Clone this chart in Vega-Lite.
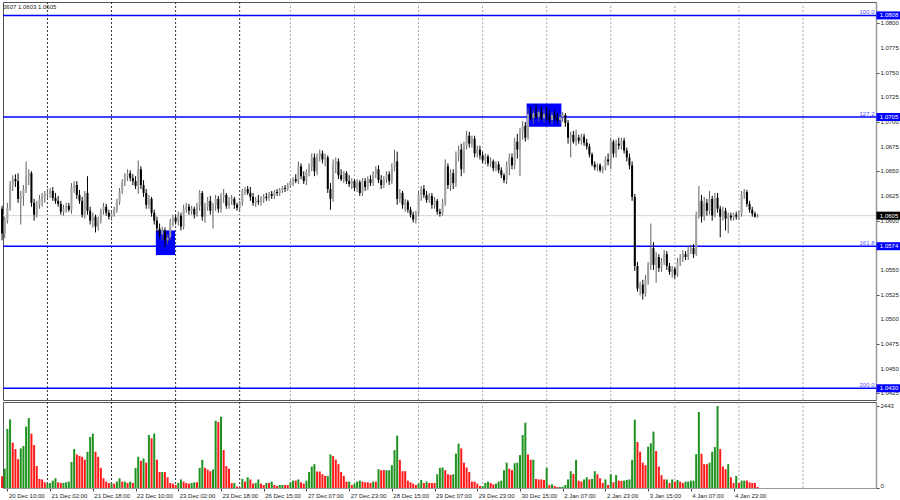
{
"$schema":"https://vega.github.io/schema/vega-lite/v6.json",
"background":"white",
"padding":{"left":0,"top":1,"right":0,"bottom":0},
"spacing":0,
"config":{"view":{"stroke":"#555","strokeWidth":1},"font":"Liberation Sans","axis":{"labelFont":"Liberation Sans","labelOverlap":false},"scale":{"continuousPadding":0}},
"datasets":{
"grid":[{"g":17},{"g":41},{"g":65},{"g":89},{"g":108},{"g":132},{"g":156},{"g":180},{"g":204},{"g":228},{"g":252},{"g":276},{"g":300}],
"yl":[{"p":1.0425},{"p":1.0450},{"p":1.0475},{"p":1.0500},{"p":1.0525},{"p":1.0550},{"p":1.0600},{"p":1.0625},{"p":1.0650},{"p":1.0675},{"p":1.0700},{"p":1.0725},{"p":1.0750},{"p":1.0775},{"p":1.0800}],
"lv":[{"p":1.0808,"n":"100.0"},{"p":1.0705,"n":"127.2"},{"p":1.0574,"n":"161.8"},{"p":1.0430,"n":"200.0"}],
"tag":[{"p":1.0808,"t":"1.0808","k":"L"},{"p":1.0705,"t":"1.0705","k":"L"},{"p":1.0574,"t":"1.0574","k":"L"},{"p":1.0430,"t":"1.0430","k":"L"},{"p":1.0605,"t":"1.0605","k":"C"}],
"bx":[{"a":57.6,"b":64.8,"lo":1.0565,"hi":1.0590},{"a":196.5,"b":209.5,"lo":1.06951,"hi":1.07188}],
"k":[
{"i":0,"o":1.0612,"h":1.0615,"l":1.0580,"c":1.0587,"v":350,"u":0},
{"i":1,"o":1.0587,"h":1.0604,"l":1.0582,"c":1.0600,"v":575,"u":1},
{"i":2,"o":1.0600,"h":1.0618,"l":1.0597,"c":1.0613,"v":1760,"u":1},
{"i":3,"o":1.0613,"h":1.0640,"l":1.0610,"c":1.0636,"v":2045,"u":1},
{"i":4,"o":1.0636,"h":1.0646,"l":1.0630,"c":1.0642,"v":1350,"u":0},
{"i":5,"o":1.0642,"h":1.0647,"l":1.0634,"c":1.0640,"v":1160,"u":0},
{"i":6,"o":1.0640,"h":1.0648,"l":1.0618,"c":1.0622,"v":860,"u":0},
{"i":7,"o":1.0622,"h":1.0630,"l":1.0596,"c":1.0625,"v":1180,"u":1},
{"i":8,"o":1.0625,"h":1.0636,"l":1.0615,"c":1.0632,"v":1250,"u":1},
{"i":9,"o":1.0632,"h":1.0660,"l":1.0628,"c":1.0645,"v":1830,"u":1},
{"i":10,"o":1.0645,"h":1.0652,"l":1.0636,"c":1.0648,"v":2085,"u":1},
{"i":11,"o":1.0648,"h":1.0650,"l":1.0614,"c":1.0618,"v":1620,"u":0},
{"i":12,"o":1.0618,"h":1.0622,"l":1.0600,"c":1.0606,"v":1280,"u":0},
{"i":13,"o":1.0606,"h":1.0620,"l":1.0603,"c":1.0616,"v":655,"u":0},
{"i":14,"o":1.0616,"h":1.0626,"l":1.0612,"c":1.0622,"v":270,"u":0},
{"i":15,"o":1.0622,"h":1.0628,"l":1.0614,"c":1.0624,"v":255,"u":0},
{"i":16,"o":1.0624,"h":1.0630,"l":1.0618,"c":1.0627,"v":170,"u":0},
{"i":17,"o":1.0627,"h":1.0632,"l":1.0622,"c":1.0628,"v":130,"u":1},
{"i":18,"o":1.0628,"h":1.0633,"l":1.0623,"c":1.0630,"v":150,"u":1},
{"i":19,"o":1.0630,"h":1.0634,"l":1.0620,"c":1.0623,"v":220,"u":1},
{"i":20,"o":1.0623,"h":1.0628,"l":1.0617,"c":1.0620,"v":290,"u":1},
{"i":21,"o":1.0620,"h":1.0625,"l":1.0614,"c":1.0617,"v":170,"u":0},
{"i":22,"o":1.0617,"h":1.0620,"l":1.0606,"c":1.0609,"v":150,"u":0},
{"i":23,"o":1.0609,"h":1.0616,"l":1.0605,"c":1.0612,"v":150,"u":1},
{"i":24,"o":1.0612,"h":1.0618,"l":1.0608,"c":1.0615,"v":170,"u":1},
{"i":25,"o":1.0615,"h":1.0618,"l":1.0609,"c":1.0611,"v":190,"u":1},
{"i":26,"o":1.0611,"h":1.0638,"l":1.0607,"c":1.0634,"v":775,"u":1},
{"i":27,"o":1.0634,"h":1.0640,"l":1.0628,"c":1.0636,"v":1160,"u":1},
{"i":28,"o":1.0636,"h":1.0640,"l":1.0622,"c":1.0626,"v":1000,"u":0},
{"i":29,"o":1.0626,"h":1.0631,"l":1.0617,"c":1.0620,"v":960,"u":0},
{"i":30,"o":1.0620,"h":1.0624,"l":1.0603,"c":1.0606,"v":930,"u":0},
{"i":31,"o":1.0606,"h":1.0630,"l":1.0602,"c":1.0628,"v":845,"u":0},
{"i":32,"o":1.0628,"h":1.0645,"l":1.0606,"c":1.0610,"v":1080,"u":1},
{"i":33,"o":1.0610,"h":1.0614,"l":1.0596,"c":1.0600,"v":1520,"u":1},
{"i":34,"o":1.0600,"h":1.0608,"l":1.0593,"c":1.0604,"v":1620,"u":1},
{"i":35,"o":1.0604,"h":1.0606,"l":1.0588,"c":1.0594,"v":1080,"u":0},
{"i":36,"o":1.0594,"h":1.0604,"l":1.0590,"c":1.0600,"v":930,"u":0},
{"i":37,"o":1.0600,"h":1.0612,"l":1.0597,"c":1.0610,"v":600,"u":0},
{"i":38,"o":1.0610,"h":1.0618,"l":1.0606,"c":1.0614,"v":290,"u":0},
{"i":39,"o":1.0614,"h":1.0617,"l":1.0605,"c":1.0608,"v":190,"u":0},
{"i":40,"o":1.0608,"h":1.0611,"l":1.0601,"c":1.0604,"v":150,"u":0},
{"i":41,"o":1.0604,"h":1.0610,"l":1.0600,"c":1.0607,"v":140,"u":1},
{"i":42,"o":1.0607,"h":1.0614,"l":1.0604,"c":1.0611,"v":130,"u":0},
{"i":43,"o":1.0611,"h":1.0622,"l":1.0608,"c":1.0619,"v":190,"u":1},
{"i":44,"o":1.0619,"h":1.0633,"l":1.0616,"c":1.0630,"v":290,"u":1},
{"i":45,"o":1.0630,"h":1.0642,"l":1.0627,"c":1.0639,"v":190,"u":0},
{"i":46,"o":1.0639,"h":1.0648,"l":1.0635,"c":1.0645,"v":190,"u":1},
{"i":47,"o":1.0645,"h":1.0652,"l":1.0640,"c":1.0648,"v":150,"u":0},
{"i":48,"o":1.0648,"h":1.0651,"l":1.0640,"c":1.0643,"v":190,"u":1},
{"i":49,"o":1.0643,"h":1.0647,"l":1.0636,"c":1.0640,"v":150,"u":0},
{"i":50,"o":1.0640,"h":1.0645,"l":1.0632,"c":1.0635,"v":600,"u":1},
{"i":51,"o":1.0635,"h":1.0661,"l":1.0627,"c":1.0652,"v":930,"u":1},
{"i":52,"o":1.0652,"h":1.0655,"l":1.0632,"c":1.0636,"v":810,"u":0},
{"i":53,"o":1.0636,"h":1.0641,"l":1.0624,"c":1.0628,"v":880,"u":1},
{"i":54,"o":1.0628,"h":1.0632,"l":1.0612,"c":1.0616,"v":755,"u":0},
{"i":55,"o":1.0616,"h":1.0626,"l":1.0612,"c":1.0622,"v":1580,"u":1},
{"i":56,"o":1.0622,"h":1.0624,"l":1.0604,"c":1.0608,"v":1480,"u":0},
{"i":57,"o":1.0608,"h":1.0611,"l":1.0596,"c":1.0600,"v":1620,"u":1},
{"i":58,"o":1.0600,"h":1.0604,"l":1.0588,"c":1.0592,"v":845,"u":0},
{"i":59,"o":1.0592,"h":1.0597,"l":1.0582,"c":1.0586,"v":475,"u":0},
{"i":60,"o":1.0586,"h":1.0594,"l":1.0580,"c":1.0590,"v":475,"u":1},
{"i":61,"o":1.0590,"h":1.0593,"l":1.0573,"c":1.0580,"v":475,"u":0},
{"i":62,"o":1.0580,"h":1.0586,"l":1.0576,"c":1.0583,"v":320,"u":0},
{"i":63,"o":1.0583,"h":1.0602,"l":1.0580,"c":1.0598,"v":150,"u":0},
{"i":64,"o":1.0598,"h":1.0606,"l":1.0594,"c":1.0603,"v":130,"u":0},
{"i":65,"o":1.0603,"h":1.0606,"l":1.0596,"c":1.0599,"v":90,"u":0},
{"i":66,"o":1.0599,"h":1.0609,"l":1.0595,"c":1.0605,"v":150,"u":1},
{"i":67,"o":1.0605,"h":1.0608,"l":1.0590,"c":1.0594,"v":255,"u":1},
{"i":68,"o":1.0594,"h":1.0616,"l":1.0591,"c":1.0612,"v":190,"u":0},
{"i":69,"o":1.0612,"h":1.0618,"l":1.0608,"c":1.0614,"v":150,"u":0},
{"i":70,"o":1.0614,"h":1.0617,"l":1.0606,"c":1.0610,"v":130,"u":0},
{"i":71,"o":1.0610,"h":1.0615,"l":1.0606,"c":1.0612,"v":150,"u":1},
{"i":72,"o":1.0612,"h":1.0614,"l":1.0602,"c":1.0606,"v":170,"u":1},
{"i":73,"o":1.0606,"h":1.0618,"l":1.0604,"c":1.0615,"v":170,"u":0},
{"i":74,"o":1.0615,"h":1.0631,"l":1.0610,"c":1.0628,"v":600,"u":1},
{"i":75,"o":1.0628,"h":1.0630,"l":1.0600,"c":1.0604,"v":840,"u":1},
{"i":76,"o":1.0604,"h":1.0618,"l":1.0598,"c":1.0614,"v":600,"u":0},
{"i":77,"o":1.0614,"h":1.0624,"l":1.0610,"c":1.0620,"v":550,"u":0},
{"i":78,"o":1.0620,"h":1.0625,"l":1.0606,"c":1.0610,"v":500,"u":0},
{"i":79,"o":1.0610,"h":1.0618,"l":1.0592,"c":1.0616,"v":550,"u":1},
{"i":80,"o":1.0616,"h":1.0626,"l":1.0610,"c":1.0622,"v":2005,"u":1},
{"i":81,"o":1.0622,"h":1.0625,"l":1.0608,"c":1.0612,"v":1965,"u":0},
{"i":82,"o":1.0612,"h":1.0628,"l":1.0608,"c":1.0624,"v":2125,"u":1},
{"i":83,"o":1.0624,"h":1.0632,"l":1.0618,"c":1.0626,"v":1130,"u":0},
{"i":84,"o":1.0626,"h":1.0628,"l":1.0612,"c":1.0615,"v":655,"u":0},
{"i":85,"o":1.0615,"h":1.0624,"l":1.0612,"c":1.0620,"v":575,"u":0},
{"i":86,"o":1.0620,"h":1.0626,"l":1.0616,"c":1.0622,"v":150,"u":0},
{"i":87,"o":1.0622,"h":1.0624,"l":1.0612,"c":1.0616,"v":150,"u":1},
{"i":88,"o":1.0616,"h":1.0618,"l":1.0610,"c":1.0613,"v":40,"u":0},
{"i":89,"o":1.0613,"h":1.0620,"l":1.0610,"c":1.0618,"v":20,"u":0},
{"i":90,"o":1.0618,"h":1.0632,"l":1.0615,"c":1.0630,"v":270,"u":1},
{"i":91,"o":1.0630,"h":1.0634,"l":1.0626,"c":1.0632,"v":190,"u":0},
{"i":92,"o":1.0632,"h":1.0635,"l":1.0626,"c":1.0628,"v":320,"u":1},
{"i":93,"o":1.0628,"h":1.0634,"l":1.0620,"c":1.0624,"v":255,"u":0},
{"i":94,"o":1.0624,"h":1.0628,"l":1.0615,"c":1.0618,"v":130,"u":0},
{"i":95,"o":1.0618,"h":1.0624,"l":1.0614,"c":1.0620,"v":150,"u":1},
{"i":96,"o":1.0620,"h":1.0626,"l":1.0616,"c":1.0619,"v":255,"u":1},
{"i":97,"o":1.0619,"h":1.0625,"l":1.0615,"c":1.0622,"v":130,"u":0},
{"i":98,"o":1.0622,"h":1.0627,"l":1.0618,"c":1.0624,"v":90,"u":0},
{"i":99,"o":1.0624,"h":1.0628,"l":1.0620,"c":1.0623,"v":150,"u":1},
{"i":100,"o":1.0623,"h":1.0629,"l":1.0620,"c":1.0627,"v":150,"u":0},
{"i":101,"o":1.0627,"h":1.0630,"l":1.0622,"c":1.0625,"v":190,"u":1},
{"i":102,"o":1.0625,"h":1.0631,"l":1.0622,"c":1.0629,"v":90,"u":0},
{"i":103,"o":1.0629,"h":1.0632,"l":1.0625,"c":1.0628,"v":60,"u":0},
{"i":104,"o":1.0628,"h":1.0633,"l":1.0625,"c":1.0631,"v":90,"u":1},
{"i":105,"o":1.0631,"h":1.0635,"l":1.0628,"c":1.0633,"v":90,"u":1},
{"i":106,"o":1.0633,"h":1.0636,"l":1.0629,"c":1.0632,"v":90,"u":0},
{"i":107,"o":1.0632,"h":1.0638,"l":1.0630,"c":1.0636,"v":90,"u":0},
{"i":108,"o":1.0636,"h":1.0641,"l":1.0633,"c":1.0639,"v":170,"u":1},
{"i":109,"o":1.0639,"h":1.0644,"l":1.0635,"c":1.0642,"v":220,"u":1},
{"i":110,"o":1.0642,"h":1.0647,"l":1.0638,"c":1.0640,"v":220,"u":0},
{"i":111,"o":1.0640,"h":1.0660,"l":1.0637,"c":1.0655,"v":255,"u":1},
{"i":112,"o":1.0655,"h":1.0658,"l":1.0642,"c":1.0645,"v":170,"u":0},
{"i":113,"o":1.0645,"h":1.0650,"l":1.0637,"c":1.0640,"v":130,"u":0},
{"i":114,"o":1.0640,"h":1.0652,"l":1.0636,"c":1.0649,"v":220,"u":1},
{"i":115,"o":1.0649,"h":1.0658,"l":1.0645,"c":1.0655,"v":475,"u":1},
{"i":116,"o":1.0655,"h":1.0668,"l":1.0650,"c":1.0664,"v":640,"u":1},
{"i":117,"o":1.0664,"h":1.0668,"l":1.0645,"c":1.0650,"v":710,"u":1},
{"i":118,"o":1.0650,"h":1.0668,"l":1.0646,"c":1.0665,"v":490,"u":0},
{"i":119,"o":1.0665,"h":1.0672,"l":1.0660,"c":1.0668,"v":490,"u":0},
{"i":120,"o":1.0668,"h":1.0671,"l":1.0658,"c":1.0662,"v":410,"u":0},
{"i":121,"o":1.0662,"h":1.0668,"l":1.0655,"c":1.0664,"v":360,"u":0},
{"i":122,"o":1.0664,"h":1.0666,"l":1.0628,"c":1.0632,"v":360,"u":1},
{"i":123,"o":1.0632,"h":1.0638,"l":1.0611,"c":1.0622,"v":1000,"u":1},
{"i":124,"o":1.0622,"h":1.0662,"l":1.0619,"c":1.0657,"v":950,"u":0},
{"i":125,"o":1.0657,"h":1.0664,"l":1.0648,"c":1.0660,"v":845,"u":0},
{"i":126,"o":1.0660,"h":1.0663,"l":1.0642,"c":1.0646,"v":710,"u":0},
{"i":127,"o":1.0646,"h":1.0652,"l":1.0640,"c":1.0642,"v":475,"u":0},
{"i":128,"o":1.0642,"h":1.0650,"l":1.0638,"c":1.0648,"v":360,"u":0},
{"i":129,"o":1.0648,"h":1.0650,"l":1.0637,"c":1.0640,"v":190,"u":0},
{"i":130,"o":1.0640,"h":1.0646,"l":1.0634,"c":1.0637,"v":190,"u":1},
{"i":131,"o":1.0637,"h":1.0643,"l":1.0632,"c":1.0640,"v":90,"u":0},
{"i":132,"o":1.0640,"h":1.0642,"l":1.0630,"c":1.0633,"v":130,"u":1},
{"i":133,"o":1.0633,"h":1.0642,"l":1.0629,"c":1.0639,"v":190,"u":1},
{"i":134,"o":1.0639,"h":1.0641,"l":1.0625,"c":1.0628,"v":220,"u":1},
{"i":135,"o":1.0628,"h":1.0643,"l":1.0625,"c":1.0640,"v":190,"u":0},
{"i":136,"o":1.0640,"h":1.0643,"l":1.0630,"c":1.0634,"v":170,"u":0},
{"i":137,"o":1.0634,"h":1.0645,"l":1.0631,"c":1.0642,"v":170,"u":0},
{"i":138,"o":1.0642,"h":1.0646,"l":1.0635,"c":1.0638,"v":150,"u":0},
{"i":139,"o":1.0638,"h":1.0650,"l":1.0635,"c":1.0647,"v":190,"u":1},
{"i":140,"o":1.0647,"h":1.0655,"l":1.0643,"c":1.0652,"v":190,"u":0},
{"i":141,"o":1.0652,"h":1.0656,"l":1.0638,"c":1.0641,"v":560,"u":1},
{"i":142,"o":1.0641,"h":1.0646,"l":1.0632,"c":1.0636,"v":530,"u":0},
{"i":143,"o":1.0636,"h":1.0645,"l":1.0633,"c":1.0642,"v":530,"u":0},
{"i":144,"o":1.0642,"h":1.0650,"l":1.0638,"c":1.0647,"v":530,"u":1},
{"i":145,"o":1.0647,"h":1.0650,"l":1.0636,"c":1.0640,"v":530,"u":1},
{"i":146,"o":1.0640,"h":1.0658,"l":1.0637,"c":1.0654,"v":680,"u":1},
{"i":147,"o":1.0654,"h":1.0672,"l":1.0650,"c":1.0660,"v":1130,"u":1},
{"i":148,"o":1.0660,"h":1.0670,"l":1.0616,"c":1.0622,"v":1560,"u":1},
{"i":149,"o":1.0622,"h":1.0632,"l":1.0618,"c":1.0628,"v":840,"u":0},
{"i":150,"o":1.0628,"h":1.0630,"l":1.0612,"c":1.0616,"v":500,"u":0},
{"i":151,"o":1.0616,"h":1.0622,"l":1.0609,"c":1.0619,"v":500,"u":0},
{"i":152,"o":1.0619,"h":1.0621,"l":1.0608,"c":1.0611,"v":220,"u":0},
{"i":153,"o":1.0611,"h":1.0614,"l":1.0603,"c":1.0606,"v":170,"u":0},
{"i":154,"o":1.0606,"h":1.0609,"l":1.0598,"c":1.0601,"v":130,"u":0},
{"i":155,"o":1.0601,"h":1.0610,"l":1.0597,"c":1.0607,"v":90,"u":0},
{"i":156,"o":1.0607,"h":1.0630,"l":1.0604,"c":1.0626,"v":130,"u":1},
{"i":157,"o":1.0626,"h":1.0635,"l":1.0620,"c":1.0632,"v":240,"u":1},
{"i":158,"o":1.0632,"h":1.0636,"l":1.0623,"c":1.0626,"v":150,"u":0},
{"i":159,"o":1.0626,"h":1.0630,"l":1.0618,"c":1.0621,"v":190,"u":1},
{"i":160,"o":1.0621,"h":1.0628,"l":1.0618,"c":1.0625,"v":150,"u":0},
{"i":161,"o":1.0625,"h":1.0628,"l":1.0612,"c":1.0616,"v":150,"u":0},
{"i":162,"o":1.0616,"h":1.0624,"l":1.0612,"c":1.0620,"v":150,"u":0},
{"i":163,"o":1.0620,"h":1.0622,"l":1.0606,"c":1.0609,"v":410,"u":1},
{"i":164,"o":1.0609,"h":1.0612,"l":1.0604,"c":1.0607,"v":600,"u":1},
{"i":165,"o":1.0607,"h":1.0622,"l":1.0605,"c":1.0618,"v":610,"u":1},
{"i":166,"o":1.0618,"h":1.0662,"l":1.0615,"c":1.0655,"v":530,"u":0},
{"i":167,"o":1.0655,"h":1.0658,"l":1.0632,"c":1.0636,"v":410,"u":0},
{"i":168,"o":1.0636,"h":1.0652,"l":1.0630,"c":1.0648,"v":390,"u":0},
{"i":169,"o":1.0648,"h":1.0652,"l":1.0632,"c":1.0638,"v":410,"u":1},
{"i":170,"o":1.0638,"h":1.0670,"l":1.0634,"c":1.0666,"v":1025,"u":1},
{"i":171,"o":1.0666,"h":1.0676,"l":1.0660,"c":1.0672,"v":1320,"u":1},
{"i":172,"o":1.0672,"h":1.0678,"l":1.0645,"c":1.0652,"v":1180,"u":0},
{"i":173,"o":1.0652,"h":1.0680,"l":1.0648,"c":1.0676,"v":755,"u":0},
{"i":174,"o":1.0676,"h":1.0691,"l":1.0672,"c":1.0686,"v":610,"u":0},
{"i":175,"o":1.0686,"h":1.0690,"l":1.0674,"c":1.0678,"v":475,"u":0},
{"i":176,"o":1.0678,"h":1.0686,"l":1.0674,"c":1.0683,"v":190,"u":0},
{"i":177,"o":1.0683,"h":1.0686,"l":1.0664,"c":1.0668,"v":190,"u":0},
{"i":178,"o":1.0668,"h":1.0676,"l":1.0664,"c":1.0672,"v":130,"u":0},
{"i":179,"o":1.0672,"h":1.0676,"l":1.0662,"c":1.0666,"v":60,"u":0},
{"i":180,"o":1.0666,"h":1.0670,"l":1.0658,"c":1.0661,"v":60,"u":1},
{"i":181,"o":1.0661,"h":1.0668,"l":1.0657,"c":1.0665,"v":150,"u":1},
{"i":182,"o":1.0665,"h":1.0667,"l":1.0655,"c":1.0658,"v":190,"u":1},
{"i":183,"o":1.0658,"h":1.0664,"l":1.0654,"c":1.0660,"v":150,"u":0},
{"i":184,"o":1.0660,"h":1.0662,"l":1.0650,"c":1.0653,"v":110,"u":0},
{"i":185,"o":1.0653,"h":1.0660,"l":1.0650,"c":1.0657,"v":130,"u":1},
{"i":186,"o":1.0657,"h":1.0660,"l":1.0648,"c":1.0651,"v":190,"u":1},
{"i":187,"o":1.0651,"h":1.0654,"l":1.0643,"c":1.0646,"v":220,"u":1},
{"i":188,"o":1.0646,"h":1.0648,"l":1.0638,"c":1.0641,"v":530,"u":1},
{"i":189,"o":1.0641,"h":1.0660,"l":1.0637,"c":1.0656,"v":755,"u":1},
{"i":190,"o":1.0656,"h":1.0668,"l":1.0646,"c":1.0664,"v":575,"u":0},
{"i":191,"o":1.0664,"h":1.0668,"l":1.0652,"c":1.0656,"v":530,"u":0},
{"i":192,"o":1.0656,"h":1.0684,"l":1.0652,"c":1.0680,"v":735,"u":1},
{"i":193,"o":1.0680,"h":1.0688,"l":1.0663,"c":1.0672,"v":755,"u":1},
{"i":194,"o":1.0672,"h":1.0694,"l":1.0645,"c":1.0690,"v":980,"u":1},
{"i":195,"o":1.0690,"h":1.0701,"l":1.0682,"c":1.0696,"v":1580,"u":1},
{"i":196,"o":1.0696,"h":1.0700,"l":1.0680,"c":1.0684,"v":1945,"u":1},
{"i":197,"o":1.0684,"h":1.0714,"l":1.0682,"c":1.0708,"v":1000,"u":0},
{"i":198,"o":1.0708,"h":1.0716,"l":1.0702,"c":1.0704,"v":840,"u":0},
{"i":199,"o":1.0704,"h":1.0712,"l":1.0698,"c":1.0709,"v":845,"u":1},
{"i":200,"o":1.0709,"h":1.0718,"l":1.0703,"c":1.0705,"v":270,"u":0},
{"i":201,"o":1.0705,"h":1.0712,"l":1.0700,"c":1.0710,"v":255,"u":0},
{"i":202,"o":1.0710,"h":1.0716,"l":1.0702,"c":1.0704,"v":255,"u":0},
{"i":203,"o":1.0704,"h":1.0713,"l":1.0699,"c":1.0708,"v":240,"u":0},
{"i":204,"o":1.0708,"h":1.0716,"l":1.0702,"c":1.0706,"v":600,"u":1},
{"i":205,"o":1.0706,"h":1.0712,"l":1.0699,"c":1.0702,"v":90,"u":0},
{"i":206,"o":1.0702,"h":1.0710,"l":1.0698,"c":1.0707,"v":110,"u":1},
{"i":207,"o":1.0707,"h":1.0712,"l":1.0701,"c":1.0704,"v":60,"u":0},
{"i":208,"o":1.0704,"h":1.0709,"l":1.0699,"c":1.0702,"v":30,"u":0},
{"i":209,"o":1.0702,"h":1.0708,"l":1.0698,"c":1.0705,"v":30,"u":1},
{"i":210,"o":1.0705,"h":1.0710,"l":1.0700,"c":1.0707,"v":40,"u":1},
{"i":211,"o":1.0707,"h":1.0709,"l":1.0695,"c":1.0699,"v":90,"u":1},
{"i":212,"o":1.0699,"h":1.0702,"l":1.0678,"c":1.0684,"v":255,"u":1},
{"i":213,"o":1.0684,"h":1.0690,"l":1.0664,"c":1.0687,"v":500,"u":1},
{"i":214,"o":1.0687,"h":1.0691,"l":1.0678,"c":1.0680,"v":420,"u":0},
{"i":215,"o":1.0680,"h":1.0692,"l":1.0676,"c":1.0684,"v":840,"u":1},
{"i":216,"o":1.0684,"h":1.0687,"l":1.0678,"c":1.0681,"v":220,"u":0},
{"i":217,"o":1.0681,"h":1.0688,"l":1.0677,"c":1.0685,"v":190,"u":0},
{"i":218,"o":1.0685,"h":1.0688,"l":1.0676,"c":1.0679,"v":255,"u":1},
{"i":219,"o":1.0679,"h":1.0683,"l":1.0672,"c":1.0675,"v":320,"u":1},
{"i":220,"o":1.0675,"h":1.0678,"l":1.0664,"c":1.0667,"v":255,"u":0},
{"i":221,"o":1.0667,"h":1.0669,"l":1.0655,"c":1.0657,"v":270,"u":1},
{"i":222,"o":1.0657,"h":1.0660,"l":1.0651,"c":1.0654,"v":500,"u":1},
{"i":223,"o":1.0654,"h":1.0658,"l":1.0650,"c":1.0656,"v":410,"u":0},
{"i":224,"o":1.0656,"h":1.0658,"l":1.0649,"c":1.0651,"v":290,"u":0},
{"i":225,"o":1.0651,"h":1.0655,"l":1.0648,"c":1.0653,"v":150,"u":0},
{"i":226,"o":1.0653,"h":1.0665,"l":1.0651,"c":1.0662,"v":255,"u":1},
{"i":227,"o":1.0662,"h":1.0668,"l":1.0656,"c":1.0660,"v":90,"u":0},
{"i":228,"o":1.0660,"h":1.0684,"l":1.0652,"c":1.0680,"v":410,"u":1},
{"i":229,"o":1.0680,"h":1.0682,"l":1.0664,"c":1.0668,"v":170,"u":0},
{"i":230,"o":1.0668,"h":1.0682,"l":1.0664,"c":1.0678,"v":385,"u":1},
{"i":231,"o":1.0678,"h":1.0684,"l":1.0672,"c":1.0676,"v":220,"u":0},
{"i":232,"o":1.0676,"h":1.0684,"l":1.0672,"c":1.0681,"v":210,"u":0},
{"i":233,"o":1.0681,"h":1.0684,"l":1.0668,"c":1.0671,"v":220,"u":1},
{"i":234,"o":1.0671,"h":1.0674,"l":1.0660,"c":1.0664,"v":240,"u":1},
{"i":235,"o":1.0664,"h":1.0668,"l":1.0652,"c":1.0656,"v":255,"u":1},
{"i":236,"o":1.0656,"h":1.0660,"l":1.0620,"c":1.0624,"v":840,"u":1},
{"i":237,"o":1.0624,"h":1.0627,"l":1.0549,"c":1.0554,"v":2035,"u":1},
{"i":238,"o":1.0554,"h":1.0558,"l":1.0528,"c":1.0531,"v":1370,"u":0},
{"i":239,"o":1.0531,"h":1.0538,"l":1.0524,"c":1.0535,"v":1080,"u":0},
{"i":240,"o":1.0535,"h":1.0540,"l":1.0520,"c":1.0526,"v":755,"u":0},
{"i":241,"o":1.0526,"h":1.0545,"l":1.0523,"c":1.0540,"v":680,"u":0},
{"i":242,"o":1.0540,"h":1.0558,"l":1.0535,"c":1.0555,"v":1230,"u":1},
{"i":243,"o":1.0555,"h":1.0597,"l":1.0550,"c":1.0572,"v":1330,"u":1},
{"i":244,"o":1.0572,"h":1.0578,"l":1.0550,"c":1.0555,"v":1680,"u":1},
{"i":245,"o":1.0555,"h":1.0568,"l":1.0537,"c":1.0563,"v":1100,"u":0},
{"i":246,"o":1.0563,"h":1.0566,"l":1.0548,"c":1.0552,"v":640,"u":0},
{"i":247,"o":1.0552,"h":1.0562,"l":1.0548,"c":1.0558,"v":385,"u":0},
{"i":248,"o":1.0558,"h":1.0570,"l":1.0555,"c":1.0566,"v":255,"u":0},
{"i":249,"o":1.0566,"h":1.0569,"l":1.0550,"c":1.0554,"v":255,"u":1},
{"i":250,"o":1.0554,"h":1.0557,"l":1.0545,"c":1.0548,"v":150,"u":0},
{"i":251,"o":1.0548,"h":1.0554,"l":1.0542,"c":1.0551,"v":255,"u":1},
{"i":252,"o":1.0551,"h":1.0553,"l":1.0541,"c":1.0545,"v":190,"u":0},
{"i":253,"o":1.0545,"h":1.0562,"l":1.0543,"c":1.0558,"v":240,"u":1},
{"i":254,"o":1.0558,"h":1.0566,"l":1.0554,"c":1.0562,"v":190,"u":0},
{"i":255,"o":1.0562,"h":1.0570,"l":1.0558,"c":1.0566,"v":150,"u":0},
{"i":256,"o":1.0566,"h":1.0569,"l":1.0560,"c":1.0563,"v":190,"u":1},
{"i":257,"o":1.0563,"h":1.0574,"l":1.0560,"c":1.0570,"v":190,"u":1},
{"i":258,"o":1.0570,"h":1.0575,"l":1.0566,"c":1.0572,"v":220,"u":1},
{"i":259,"o":1.0572,"h":1.0576,"l":1.0562,"c":1.0566,"v":220,"u":1},
{"i":260,"o":1.0566,"h":1.0609,"l":1.0564,"c":1.0606,"v":1010,"u":1},
{"i":261,"o":1.0606,"h":1.0635,"l":1.0602,"c":1.0620,"v":2265,"u":1},
{"i":262,"o":1.0620,"h":1.0626,"l":1.0598,"c":1.0604,"v":1020,"u":0},
{"i":263,"o":1.0604,"h":1.0624,"l":1.0600,"c":1.0618,"v":710,"u":0},
{"i":264,"o":1.0618,"h":1.0622,"l":1.0605,"c":1.0610,"v":710,"u":0},
{"i":265,"o":1.0610,"h":1.0630,"l":1.0606,"c":1.0622,"v":755,"u":1},
{"i":266,"o":1.0622,"h":1.0625,"l":1.0600,"c":1.0605,"v":1080,"u":1},
{"i":267,"o":1.0605,"h":1.0628,"l":1.0603,"c":1.0623,"v":1220,"u":1},
{"i":268,"o":1.0623,"h":1.0628,"l":1.0608,"c":1.0612,"v":2443,"u":1},
{"i":269,"o":1.0612,"h":1.0615,"l":1.0583,"c":1.0604,"v":1160,"u":0},
{"i":270,"o":1.0604,"h":1.0614,"l":1.0600,"c":1.0610,"v":640,"u":0},
{"i":271,"o":1.0610,"h":1.0613,"l":1.0590,"c":1.0602,"v":560,"u":0},
{"i":272,"o":1.0602,"h":1.0608,"l":1.0587,"c":1.0605,"v":710,"u":1},
{"i":273,"o":1.0605,"h":1.0608,"l":1.0600,"c":1.0603,"v":320,"u":0},
{"i":274,"o":1.0603,"h":1.0608,"l":1.0600,"c":1.0606,"v":150,"u":0},
{"i":275,"o":1.0606,"h":1.0609,"l":1.0601,"c":1.0604,"v":360,"u":1},
{"i":276,"o":1.0604,"h":1.0610,"l":1.0601,"c":1.0607,"v":150,"u":0},
{"i":277,"o":1.0607,"h":1.0630,"l":1.0604,"c":1.0627,"v":220,"u":1},
{"i":278,"o":1.0627,"h":1.0632,"l":1.0622,"c":1.0629,"v":220,"u":1},
{"i":279,"o":1.0629,"h":1.0631,"l":1.0614,"c":1.0617,"v":220,"u":0},
{"i":280,"o":1.0617,"h":1.0620,"l":1.0608,"c":1.0611,"v":170,"u":0},
{"i":281,"o":1.0611,"h":1.0614,"l":1.0604,"c":1.0607,"v":150,"u":0},
{"i":282,"o":1.0607,"h":1.0609,"l":1.0603,"c":1.0604,"v":150,"u":0},
{"i":283,"o":1.0604,"h":1.0607,"l":1.0603,"c":1.0605,"v":30,"u":0}
]
},
"vconcat":[
{
"width":873,"height":398,
"layer":[
{"data":{"name":"grid"},"mark":{"type":"rule","strokeDash":[2,2],"strokeWidth":1},
 "encoding":{"x":{"field":"g","type":"quantitative","scale":{"domain":[0.35,327.35],"nice":false,"zero":false,"padding":0},"axis":null},
 "color":{"condition":{"test":"datum.g < 100","value":"#333333"},"value":"#a8a8a8"}}},
{"data":{"values":[{"p":1.0605}]},"mark":{"type":"rule","color":"#d4d4d4","strokeWidth":1},
 "encoding":{"y":{"field":"p","type":"quantitative"}}},
{"data":{"name":"bx"},"mark":{"type":"rect","color":"#0000ff"},
 "encoding":{"x":{"field":"a","type":"quantitative","axis":null},"x2":{"field":"b"},"y":{"field":"lo","type":"quantitative"},"y2":{"field":"hi"}}},
{"data":{"name":"lv"},"mark":{"type":"rule","color":"#0000ff","strokeWidth":1.5},
 "encoding":{"y":{"field":"p","type":"quantitative"}}},
{"data":{"name":"k"},"mark":{"type":"rule","strokeWidth":1},
 "encoding":{"x":{"field":"i","type":"quantitative","axis":null},
 "y":{"field":"l","type":"quantitative","scale":{"domain":[1.04181,1.08216],"nice":false,"zero":false,"padding":0},
  "axis":{"orient":"right","title":null,"values":[1.0425,1.045,1.0475,1.05,1.0525,1.055,1.06,1.0625,1.065,1.0675,1.07,1.0725,1.075,1.0775,1.08],"labels":false,"tickSize":3,"tickColor":"#444444","domainColor":"#9a9a9a","domainWidth":1.5,"grid":false}},
 "y2":{"field":"h"},
 "color":{"condition":{"test":"datum.c >= datum.o","value":"#606060"},"value":"#000000"}}},
{"data":{"name":"k"},"mark":{"type":"bar","width":2},
 "encoding":{"x":{"field":"i","type":"quantitative","axis":null},"y":{"field":"o","type":"quantitative"},"y2":{"field":"c"},
 "color":{"condition":{"test":"datum.c >= datum.o","value":"#a0a0a0"},"value":"#000000"}}},
{"data":{"name":"lv"},"mark":{"type":"text","align":"right","baseline":"alphabetic","dy":-1.5,"fontSize":6,"color":"#5555ff"},
 "encoding":{"x":{"datum":326.8,"type":"quantitative","axis":null},"y":{"field":"p","type":"quantitative"},"text":{"field":"n"}}},
{"data":{"values":[{"t":"0607 1.0603 1.0605"}]},"mark":{"type":"text","align":"left","baseline":"top","dy":2,"fontSize":6,"color":"#222222"},
 "encoding":{"x":{"datum":0.35,"type":"quantitative","axis":null},"y":{"datum":1.08216,"type":"quantitative"},"text":{"field":"t"}}},
{"data":{"name":"yl"},"mark":{"type":"text","align":"left","baseline":"middle","fontSize":6,"color":"#222222"},
 "encoding":{"x":{"datum":329.0,"type":"quantitative","axis":null},"y":{"field":"p","type":"quantitative"},"text":{"field":"p","format":".4f"}}},
{"data":{"name":"tag"},"mark":{"type":"bar","orient":"horizontal","height":8},
 "encoding":{"x":{"datum":327.5,"type":"quantitative","axis":null},"x2":{"datum":336.9},"y":{"field":"p","type":"quantitative"},
 "color":{"condition":{"test":"datum.k == 'C'","value":"#000000"},"value":"#0000ff"}}},
{"data":{"name":"tag"},"mark":{"type":"text","align":"left","baseline":"middle","fontSize":6,"color":"#ffffff"},
 "encoding":{"x":{"datum":328.8,"type":"quantitative","axis":null},"y":{"field":"p","type":"quantitative"},"text":{"field":"t"}}}
]
},
{
"width":873,"height":86,
"layer":[
{"data":{"name":"grid"},"mark":{"type":"rule","strokeDash":[2,2],"strokeWidth":1},
 "encoding":{"x":{"field":"g","type":"quantitative","scale":{"domain":[0.35,327.35],"nice":false,"zero":false,"padding":0},
  "axis":{"orient":"bottom","title":null,"values":[2,18,34,50,66,82,98,114,130,146,162,178,194,210,226,242,258,274],
  "labelExpr":"['20 Dec 10:00','21 Dec 02:00','21 Dec 18:00','22 Dec 10:00','23 Dec 02:00','23 Dec 18:00','26 Dec 15:00','27 Dec 07:00','27 Dec 23:00','28 Dec 15:00','29 Dec 07:00','29 Dec 23:00','30 Dec 15:00','2 Jan 07:00','2 Jan 23:00','3 Jan 15:00','4 Jan 07:00','4 Jan 23:00'][round((datum.value-2)/16)]",
  "labelAlign":"left","labelOffset":1,"labelFontSize":6,"labelColor":"#222222","tickSize":3,"tickColor":"#444444","domainColor":"#9a9a9a","labelPadding":1,"grid":false,"labelOverlap":false}},
 "color":{"condition":{"test":"datum.g < 100","value":"#333333"},"value":"#a8a8a8"}}},
{"data":{"name":"k"},"mark":{"type":"bar","width":2},
 "encoding":{"x":{"field":"i","type":"quantitative"},
 "y":{"field":"v","type":"quantitative","scale":{"domain":[0,2562],"nice":false,"zero":true,"padding":0},
  "axis":{"orient":"right","title":null,"values":[0,2443],"format":"d","labelFontSize":6,"labelColor":"#222222","tickSize":3,"tickColor":"#444444","domainColor":"#9a9a9a","domainWidth":1.5,"labelPadding":1,"grid":false,
  "labelBaseline":{"condition":{"test":"datum.value == 0","value":"bottom"},"value":"middle"}}},
 "color":{"condition":{"test":"datum.u == 1","value":"#1f921f"},"value":"#ff1a1a"}}}
]
}
]
}
